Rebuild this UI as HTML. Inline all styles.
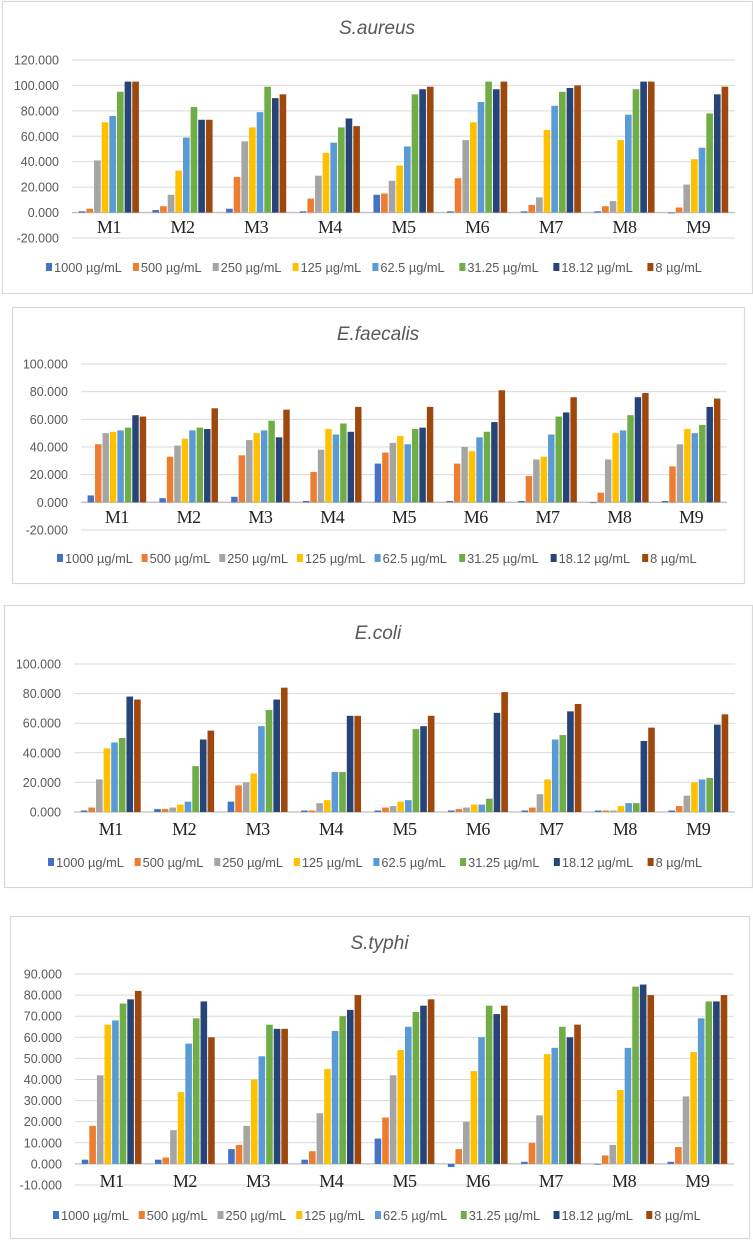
<!DOCTYPE html>
<html><head><meta charset="utf-8"><style>
html,body{margin:0;padding:0;background:#fff;width:753px;height:1240px;overflow:hidden}
svg{display:block}
text{font-family:"Liberation Sans",sans-serif}
text.cat{font-family:"Liberation Serif",serif}
</style></head><body>
<svg id="s" width="753" height="1240"></svg>
<script>
const categories=["M1","M2","M3","M4","M5","M6","M7","M8","M9"];
const seriesNames=["1000 µg/mL","500 µg/mL","250 µg/mL","125 µg/mL","62.5 µg/mL","31.25 µg/mL","18.12 µg/mL","8 µg/mL"];
const seriesColors=["#4472C4","#ED7D31","#A5A5A5","#FFC000","#5B9BD5","#70AD47","#264478","#9E480E"];
const saureusValues=[[1,3,41,71,76,95,103,103],[2,5,14,33,59,83,73,73],[3,28,56,67,79,99,90,93],[1,11,29,47,55,67,74,68],[14,15,25,37,52,93,97,99],[1,27,57,71,87,103,97,103],[1,6,12,65,84,95,98,100],[1,5,9,57,77,97,103,103],[0,4,22,42,51,78,93,99]];
const efaecalisValues=[[5,42,50,51,52,54,63,62],[3,33,41,46,52,54,53,68],[4,34,45,50,52,59,47,67],[1,22,38,53,49,57,51,69],[28,36,43,48,42,53,54,69],[1,28,40,37,47,51,58,81],[1,19,31,33,49,62,65,76],[0,7,31,50,52,63,76,79],[1,26,42,53,50,56,69,75]];
const ecoliValues=[[1,3,22,43,47,50,78,76],[2,2,3,5,7,31,49,55],[7,18,20,26,58,69,76,84],[1,1,6,8,27,27,65,65],[1,3,4,7,8,56,58,65],[1,2,3,5,5,9,67,81],[1,3,12,22,49,52,68,73],[1,1,1,4,6,6,48,57],[1,4,11,20,22,23,59,66]];
const styphiValues=[[2,18,42,66,68,76,78,82],[2,3,16,34,57,69,77,60],[7,9,18,40,51,66,64,64],[2,6,24,45,63,70,73,80],[12,22,42,54,65,72,75,78],[-1.5,7,20,44,60,75,71,75],[1,10,23,52,55,65,60,66],[0,4,9,35,55,84,85,80],[1,8,32,53,69,77,77,80]];
const saureusTicks=[120,100,80,60,40,20,0,-20];
const efaecalisTicks=[100,80,60,40,20,0,-20];
const ecoliTicks=[100,80,60,40,20,0];
const styphiTicks=[90,80,70,60,50,40,30,20,10,0,-10];

const NS="http://www.w3.org/2000/svg";
const svg=document.getElementById('s');
function mk(tag,attrs,parent,txt){const e=document.createElementNS(NS,tag);for(const k in attrs)e.setAttribute(k,attrs[k]);if(txt!==undefined)e.textContent=txt;parent.appendChild(e);return e;}

const layouts=[
 {name:"saureus",title:"S.aureus",vals:saureusValues,ticks:saureusTicks,box:[2,1,750,292],titleY:34,x0:72,x1:735,yTop:60,yBot:238,catY:233,legY:268,legX0:46,legX1:713},
 {name:"efaecalis",title:"E.faecalis",vals:efaecalisValues,ticks:efaecalisTicks,box:[12,307,732,276],titleY:340,x0:81,x1:727,yTop:364,yBot:530,catY:523,legY:559,legX0:57,legX1:706},
 {name:"ecoli",title:"E.coli",vals:ecoliValues,ticks:ecoliTicks,box:[4,605,748,282],titleY:639,x0:74,x1:735,yTop:664,yBot:812,catY:835,legY:863,legX0:48,legX1:713},
 {name:"styphi",title:"S.typhi",vals:styphiValues,ticks:styphiTicks,box:[10,916,739,322],titleY:949,x0:75,x1:734,yTop:974,yBot:1185,catY:1187,legY:1216,legX0:53,legX1:711}
];

layouts.forEach(L=>{
 const g=mk('g',{},svg);
 
 
 const b=mk('rect',{x:L.box[0]+.5,y:L.box[1]+.5,width:L.box[2],height:L.box[3],fill:'#fff',stroke:'#d9d9d9','stroke-width':1.2},g);
 
 
 const t=mk('text',{x:(L.box[0]+L.box[0]+L.box[2])/2,y:L.titleY,'text-anchor':'middle','font-size':19,'font-style':'italic',fill:'#595959'},g,L.title);
 
 
 const tMax=L.ticks[0],tMin=L.ticks[L.ticks.length-1];
 const y=v=>L.yTop+(tMax-v)/(tMax-tMin)*(L.yBot-L.yTop);
 L.ticks.forEach(tv=>{
  const gl=mk('line',{x1:L.x0,x2:L.x1,y1:y(tv),y2:y(tv),stroke:tv===0?'#bfbfbf':'#d9d9d9','stroke-width':tv===0?1.3:1},g);
  
  
  const tl=mk('text',{x:L.x0-13,y:y(tv)+4.5,'text-anchor':'end','font-size':12.5,fill:'#595959'},g,tv.toFixed(3));
  
  
 });
 const cw=(L.x1-L.x0)/categories.length;
 const slot=cw*0.83/seriesNames.length;
 categories.forEach((c,ci)=>{
  const cx=L.x0+cw*(ci+0.5);
  const gx=cx-slot*seriesNames.length/2;
  L.vals[ci].forEach((v,si)=>{
   const y1=y(Math.max(v,0)),y2=y(Math.min(v,0));
   const r=mk('rect',{x:gx+si*slot+0.5,y:y1,width:slot-1,height:Math.max(y2-y1,0.8),fill:seriesColors[si]},g);
   
   
  });
  const cl=mk('text',{x:cx,y:L.catY,'text-anchor':'middle','font-size':18,fill:'#222','class':'cat',style:'font-family:"Liberation Serif",serif;letter-spacing:-0.5px'},g,c);
  
  
 });
 const lw=(L.legX1-L.legX0);
 const lens=seriesNames.map(s=>s.length*6.3+14);
 const tot=lens.reduce((a,b)=>a+b,0);
 let lx=L.legX0;
 seriesNames.forEach((s,si)=>{
  const w=lens[si]*lw/tot;
  const lg=mk('g',{},g);
  
  
  mk('rect',{x:lx,y:L.legY-5,width:6,height:8,fill:seriesColors[si]},lg);
  mk('text',{x:lx+8,y:L.legY+4,'font-size':12.8,fill:'#595959'},lg,s);
  lx+=w;
 });
});
</script>
</body></html>
